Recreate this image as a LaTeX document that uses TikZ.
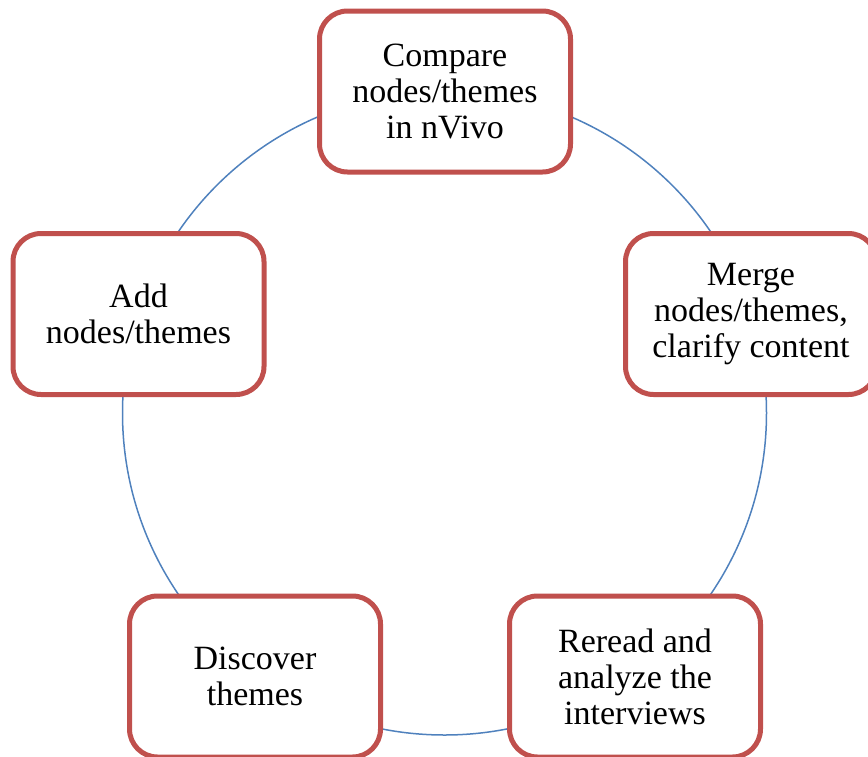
\documentclass[tikz,border=0pt]{standalone}
\usepackage{fontspec}
\setmainfont{Liberation Serif}
\definecolor{boxred}{HTML}{C0504D}
\definecolor{ringblue}{HTML}{4F81BD}
\begin{document}
\begin{tikzpicture}[x=1pt,y=-1pt,
  stepbox/.style={draw=boxred, line width=5pt, fill=white, rounded corners=28pt,
    minimum width=251pt, minimum height=161pt, align=center, inner sep=0pt,
    font=\fontsize{34}{36}\selectfont},
  ring/.style={draw=ringblue, line width=1.5pt}]
\useasboundingbox (0,0) rectangle (868,756);
\clip (0,0) rectangle (868,756);
\coordinate (c) at (444.5,413);
\draw[ring] (c) circle[radius=322pt];
\node[stepbox] (compare) at (445,91.5) {Compare\\nodes/themes\\in nVivo};
\node[stepbox] (merge) at (751,314) {Merge\\nodes/themes,\\clarify content};
\node[stepbox] (reread) at (635,676.5) {Reread and\\analyze the\\interviews};
\node[stepbox] (discover) at (255,676.5) {Discover\\themes};
\node[stepbox] (add) at (138.5,314) {Add\\nodes/themes};
\end{tikzpicture}
\end{document}
